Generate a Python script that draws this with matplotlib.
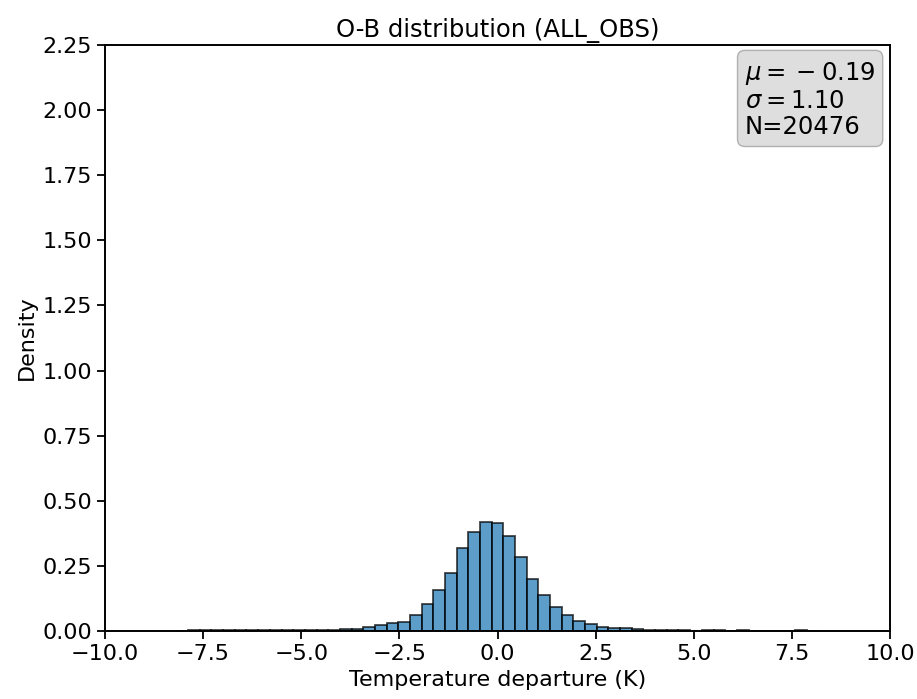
import numpy as np
import matplotlib
matplotlib.use("Agg")
import matplotlib.pyplot as plt

# histogram: 55 equal bins between -8.18 and 8.18
bin_lo = -8.18
bin_hi = 8.18
n_bins = 55
density = [
    0.000, 0.002, 0.002, 0.002, 0.002, 0.002, 0.002, 0.002, 0.002, 0.002,
    0.003, 0.003, 0.004, 0.005, 0.006, 0.008, 0.015, 0.023, 0.030, 0.035,
    0.061, 0.104, 0.156, 0.223, 0.320, 0.381, 0.417, 0.415, 0.366, 0.284,
    0.200, 0.139, 0.092, 0.060, 0.038, 0.026, 0.017, 0.013, 0.010, 0.007,
    0.003, 0.003, 0.002, 0.002, 0.000, 0.002, 0.002, 0.000, 0.002, 0.000,
    0.000, 0.000, 0.000, 0.002, 0.000,
]
mu = -0.19
sigma = 1.10
n_obs = 20476
title = "O-B distribution (ALL_OBS)"

edges = np.linspace(bin_lo, bin_hi, n_bins + 1)
centers = 0.5 * (edges[:-1] + edges[1:])

fig = plt.figure(figsize=(9.17, 6.99), dpi=100)
ax = fig.add_axes([0.1145, 0.0973, 0.8561, 0.8383])

ax.hist(centers, bins=edges, weights=density, color="#1f77b4", alpha=0.72,
        edgecolor="black", linewidth=1.3)

ax.set_xlim(-10, 10)
ax.set_ylim(0, 2.25)
ax.set_xticks(np.arange(-10, 10.1, 2.5))
ax.set_yticks(np.arange(0, 2.26, 0.25))
ax.tick_params(labelsize=16, width=1.3, length=6)
for s in ax.spines.values():
    s.set_linewidth(1.4)

ax.set_xlabel("Temperature departure (K)", fontsize=16)
ax.set_ylabel("Density", fontsize=16)
ax.set_title(title, fontsize=17.5)

mu_txt = ("$\\mu=\\:-\\:%.2f$" % abs(mu)) if mu < 0 else ("$\\mu=%.2f$" % mu)
txt = mu_txt + "\n$\\sigma=%.2f$\nN=%d" % (sigma, n_obs)
ax.text(0.815, 0.975, txt, transform=ax.transAxes, fontsize=17.5, va="top", ha="left",
        linespacing=1.12,
        bbox=dict(boxstyle="round", facecolor="#c8c8c8", alpha=0.6, edgecolor="#888888"))

fig.savefig("out.png", dpi=100)
